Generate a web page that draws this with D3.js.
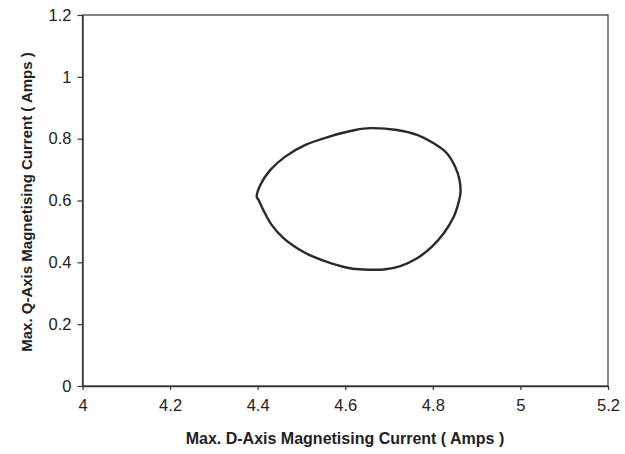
<!DOCTYPE html>
<html>
<head>
<meta charset="utf-8">
<script src="https://cdn.jsdelivr.net/npm/d3@7"></script>
<style>
  body { margin: 0; background: #fff; }
  text { font-family: "Liberation Sans", Arial, sans-serif; fill: #222; }
</style>
</head>
<body>
<div id="chart"></div>
<script>
// Loop (clockwise, from the leftmost point)
const dCurrent = [4.398, 4.406, 4.429, 4.463, 4.509, 4.562, 4.623, 4.657, 4.718, 4.764,
  4.802, 4.832, 4.851, 4.861, 4.863, 4.855, 4.848, 4.825, 4.798, 4.764,
  4.726, 4.688, 4.642, 4.611, 4.570, 4.524, 4.493, 4.459, 4.432, 4.413, 4.402];
const qCurrent = [0.612, 0.650, 0.699, 0.742, 0.780, 0.806, 0.828, 0.834, 0.828, 0.812,
  0.785, 0.753, 0.709, 0.666, 0.623, 0.575, 0.548, 0.494, 0.451, 0.413,
  0.388, 0.377, 0.377, 0.381, 0.396, 0.420, 0.443, 0.478, 0.521, 0.569, 0.602];
const xTicks = [4, 4.2, 4.4, 4.6, 4.8, 5, 5.2];
const yTicks = [0, 0.2, 0.4, 0.6, 0.8, 1, 1.2];

const margin = { top: 15, right: 17, bottom: 68, left: 82.5 };
const width = 625 - margin.left - margin.right;
const height = 454 - margin.top - margin.bottom;

const svg = d3.select("#chart")
  .append("svg")
  .attr("width", 625)
  .attr("height", 454)
  .append("g")
  .attr("transform", `translate(${margin.left},${margin.top})`);

const x = d3.scaleLinear().domain([4, 5.2]).range([0, width]);
const y = d3.scaleLinear().domain([0, 1.2]).range([height, 0]);

// frame (top + right)
svg.append("rect")
  .attr("width", width)
  .attr("height", height)
  .attr("fill", "none")
  .attr("stroke", "#333")
  .attr("stroke-width", 1.2);

// X axis
const gx = svg.append("g")
  .attr("transform", `translate(0,${height})`)
  .call(d3.axisBottom(x).tickValues(xTicks).tickFormat(d3.format("")).tickSize(4).tickSizeOuter(0));
gx.selectAll("text").attr("y", 13).attr("dy", "0.71em").style("font-size", "16.5px");

// Y axis
const gy = svg.append("g")
  .call(d3.axisLeft(y).tickValues(yTicks).tickFormat(d3.format("")).tickSize(5).tickSizeOuter(0));
gy.selectAll("text").attr("x", -11).style("font-size", "16.5px");

[gx, gy].forEach(g => {
  g.select(".domain").attr("stroke", "#333").attr("stroke-width", 1.4);
  g.selectAll(".tick line").attr("stroke", "#333").attr("stroke-width", 1.2);
  g.selectAll("text").style("fill", "#222");
});

// Loop
const pts = dCurrent.map((d, i) => [d, qCurrent[i]]);
svg.append("path")
  .datum(pts)
  .attr("fill", "none")
  .attr("stroke", "#2a2a2a")
  .attr("stroke-width", 2.4)
  .attr("d", d3.line().x(d => x(d[0])).y(d => y(d[1])).curve(d3.curveCatmullRomClosed));

// Axis titles
svg.append("text")
  .attr("x", 345 - margin.left)
  .attr("y", height + 58)
  .attr("text-anchor", "middle")
  .style("font-size", "16px")
  .style("font-weight", "bold")
  .text("Max. D-Axis Magnetising Current ( Amps )");

svg.append("text")
  .attr("transform", `translate(${32 - margin.left},${202 - margin.top}) rotate(-90)`)
  .attr("text-anchor", "middle")
  .style("font-size", "15px")
  .style("font-weight", "bold")
  .text("Max. Q-Axis Magnetising Current ( Amps )");
</script>
</body>
</html>
